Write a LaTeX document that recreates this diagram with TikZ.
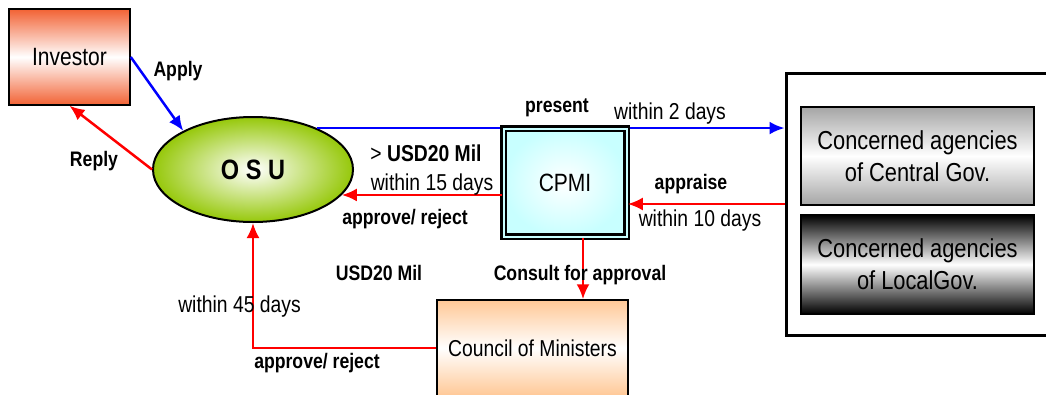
\documentclass[tikz,border=0pt]{standalone}
\usepackage{fontspec}
\setmainfont{Liberation Sans}[FakeStretch=0.84]
\usetikzlibrary{shapes.geometric,arrows.meta}

\definecolor{invred}{RGB}{242,98,52}
\definecolor{osugreen}{RGB}{150,200,10}
\definecolor{cpmicyan}{RGB}{200,255,255}
\definecolor{govgray}{RGB}{165,165,165}
\definecolor{peach}{RGB}{255,200,150}

\begin{document}
\begin{tikzpicture}[x=1pt,y=-1pt,
	txt/.style={font=\fontsize{23}{26}\selectfont},
	btxt/.style={font=\bfseries\fontsize{21}{24}\selectfont},
	box/.style={draw, line width=1.5pt, inner sep=0pt, align=center},
	arr/.style={-{Latex[length=15pt,width=13pt]}, line width=2.5pt}]

	\clip (0,0) rectangle (1046,394);

	\node (investor) at (69.5,57) [box, minimum width=121pt, minimum height=96pt, top color=invred, bottom color=invred, middle color=white, font=\fontsize{25}{28}\selectfont] {Investor};
	\node (osu) at (253,169.5) [ellipse, draw, line width=2pt, minimum width=200pt, minimum height=105pt, inner color=white, outer color=osugreen, font=\bfseries\fontsize{28}{30}\selectfont] {O S U};

	\node (agencies) at (922,204) [draw, line width=3pt, minimum width=272pt, minimum height=262pt] {};
	\node (central) at (917.5,156) [box, minimum width=233pt, minimum height=98pt, top color=govgray, bottom color=govgray, middle color=white, font=\fontsize{26}{32}\selectfont] {Concerned agencies\\of Central Gov.};
	\node (local) [box, below of=central, node distance=108.5pt, minimum width=233pt, minimum height=99pt, top color=black, bottom color=black, middle color=white, font=\fontsize{26}{32}\selectfont] {Concerned agencies\\of LocalGov.};

	\draw[arr, blue] (osu.33) -- (osu.33 -| agencies.west);

	\node (cpmi) at (565,182.5) [draw, line width=2.5pt, double=cpmicyan, double distance=2pt, minimum width=123pt, minimum height=108pt, inner color=white, outer color=cpmicyan, font=\fontsize{25}{28}\selectfont] {CPMI};
	\node (council) at (532.5,348) [box, minimum width=191pt, minimum height=96pt, top color=peach, bottom color=peach, middle color=white, font=\fontsize{23}{26}\selectfont] {Council of Ministers};

	% connectors
	\draw[arr, blue] (investor.east) -- (osu.151);
	\draw[arr, red] (osu.west) -- (investor.south);
	\draw[arr, red] (cpmi.west |- osu.-16) -- (osu.-16);
	\draw[arr, red] (agencies.west) -- (agencies.west -| cpmi.east);
	\coordinate (cdown) at ([xshift=18pt]cpmi.south);
	\draw[arr, red] (cdown) -- (cdown |- council.north);
	\draw[arr, red] (council.west) -| (osu.south);

	% labels
	\node (apply) at (178,71) [btxt] {Apply};
	\node (reply) at (94,161) [btxt] {Reply};
	\node (present) at (557,108) [btxt] {present};
	\node (in2) at (670,114) [txt] {within 2 days};
	\node (usd1) at (426,153) [txt] {> \textbf{USD20 Mil}};
	\node (in15) at (432,185) [txt] {within 15 days};
	\node (rej1) at (405,219) [btxt] {approve/ reject};
	\node (appraise) at (691,184) [btxt] {appraise};
	\node (in10) at (700,221) [txt] {within 10 days};
	\node (consult) at (580,275) [btxt] {Consult for approval};
	\node (usd2) at (379,273) [btxt] {USD20 Mil};
	\node (in45) at (239.5,307) [txt] {within 45 days};
	\node (rej2) at (317,363) [btxt] {approve/ reject};

\end{tikzpicture}
\end{document}
